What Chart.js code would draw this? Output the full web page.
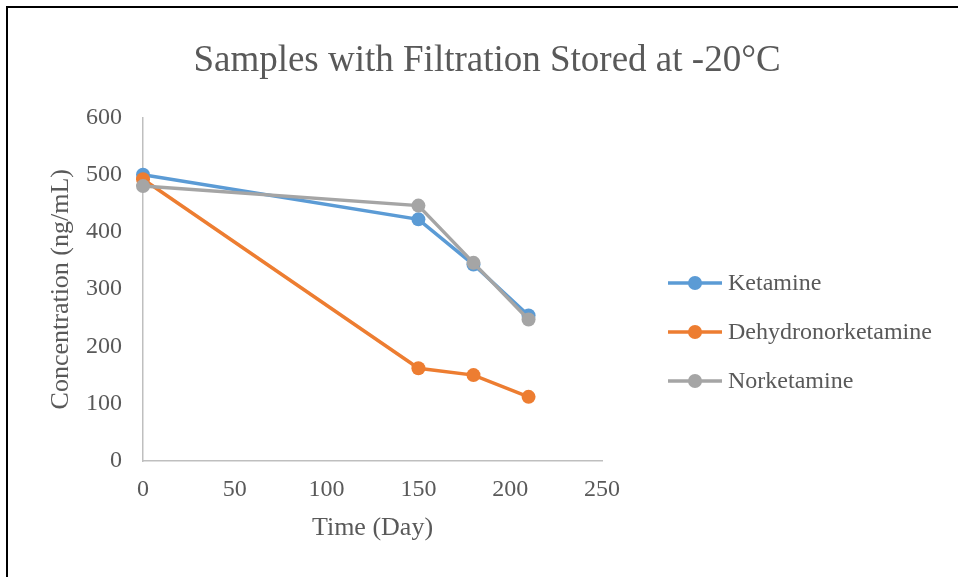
<!DOCTYPE html>
<html>
<head>
<meta charset="utf-8">
<script src="https://cdn.jsdelivr.net/npm/chart.js@4/dist/chart.umd.min.js"></script>
<style>
  html, body { margin: 0; padding: 0; background: #ffffff; }
  #wrap { position: relative; width: 958px; height: 577px; }
  #frame {
    position: absolute; left: 6px; top: 6px; right: -10px; bottom: -10px;
    border-left: 2px solid #000; border-top: 2px solid #000;
    pointer-events: none;
  }
</style>
</head>
<body>
<div id="wrap">
  <canvas id="stabilityChart" width="958" height="577"></canvas>
  <div id="frame"></div>
</div>
<script>
// Storage days and measured concentrations (ng/mL)
const days = [0, 150, 180, 210];
const ketamine = [500, 422, 343, 254];
const dehydronorketamine = [492, 162, 150, 112];
const norketamine = [480, 446, 346, 247];

const seriesNames = ['Ketamine', 'Dehydronorketamine', 'Norketamine'];
const seriesColors = ['#5B9BD5', '#ED7D31', '#A5A5A5'];

const xTicks = [0, 50, 100, 150, 200, 250];
const yTicks = [0, 100, 200, 300, 400, 500, 600];

const FONT = 'Liberation Serif, Times New Roman, serif';
const TEXT = '#595959';

function toPoints(values) {
  return days.map((d, i) => ({ x: d, y: values[i] }));
}

// Legend drawn as line + marker, like the office-style chart legend
const lineLegend = {
  id: 'lineLegend',
  afterDraw(chart) {
    const ctx = chart.ctx;
    const x0 = chart.chartArea.right + 66;
    const rows = [283, 332, 381];
    ctx.save();
    chart.data.datasets.forEach((ds, i) => {
      const y = rows[i];
      ctx.strokeStyle = ds.borderColor;
      ctx.lineWidth = 3.5;
      ctx.beginPath();
      ctx.moveTo(x0, y);
      ctx.lineTo(x0 + 54, y);
      ctx.stroke();
      ctx.fillStyle = ds.backgroundColor;
      ctx.beginPath();
      ctx.arc(x0 + 27, y, 7, 0, Math.PI * 2);
      ctx.fill();
      ctx.fillStyle = TEXT;
      ctx.font = '24px ' + FONT;
      ctx.textBaseline = 'middle';
      ctx.textAlign = 'left';
      ctx.fillText(ds.label, x0 + 60, y + 1);
    });
    ctx.restore();
  }
};

const allSeries = [ketamine, dehydronorketamine, norketamine];

const chart = new Chart(document.getElementById('stabilityChart'), {
  type: 'scatter',
  data: {
    datasets: allSeries.map((vals, i) => ({
      label: seriesNames[i],
      data: toPoints(vals),
      showLine: true,
      clip: false,
      borderColor: seriesColors[i],
      backgroundColor: seriesColors[i],
      borderWidth: 3.5,
      pointRadius: 7,
      pointBorderWidth: 0,
      pointHoverRadius: 7,
      order: allSeries.length - i
    }))
  },
  options: {
    responsive: false,
    animation: false,
    layout: { padding: { left: 16, right: 0, top: 0, bottom: 0 } },
    plugins: {
      legend: { display: false },
      tooltip: { enabled: false },
      title: {
        display: true,
        text: 'Samples with Filtration Stored at -20°C',
        color: TEXT,
        font: { family: FONT, size: 37, weight: 'normal' },
        padding: { top: 39, bottom: 34 }
      }
    },
    scales: {
      x: {
        type: 'linear',
        min: 0,
        max: 250,
        afterBuildTicks(scale) {
          scale.ticks = xTicks.map(v => ({ value: v }));
        },
        afterFit(scale) {
          scale.height = 116;
          // leave room on the right for the legend
          scale.paddingRight = 356;
        },
        grid: { display: false, drawTicks: false },
        border: { display: true, color: '#BFBFBF', width: 1.5 },
        ticks: {
          color: TEXT,
          padding: 14,
          font: { family: FONT, size: 24 }
        },
        title: {
          display: true,
          text: 'Time (Day)',
          color: TEXT,
          font: { family: FONT, size: 26 },
          padding: { top: 0, bottom: 33 }
        }
      },
      y: {
        type: 'linear',
        min: 0,
        max: 600,
        afterBuildTicks(scale) {
          scale.ticks = yTicks.map(v => ({ value: v }));
        },
        afterFit(scale) {
          scale.width = 127;
        },
        grid: { display: false, drawTicks: false },
        border: { display: true, color: '#BFBFBF', width: 1.5 },
        ticks: {
          color: TEXT,
          padding: 21,
          font: { family: FONT, size: 24 }
        },
        title: {
          display: true,
          text: 'Concentration (ng/mL)',
          color: TEXT,
          font: { family: FONT, size: 26 },
          padding: { top: 30, bottom: 0 }
        }
      }
    }
  },
  plugins: [lineLegend]
});
</script>
</body>
</html>
